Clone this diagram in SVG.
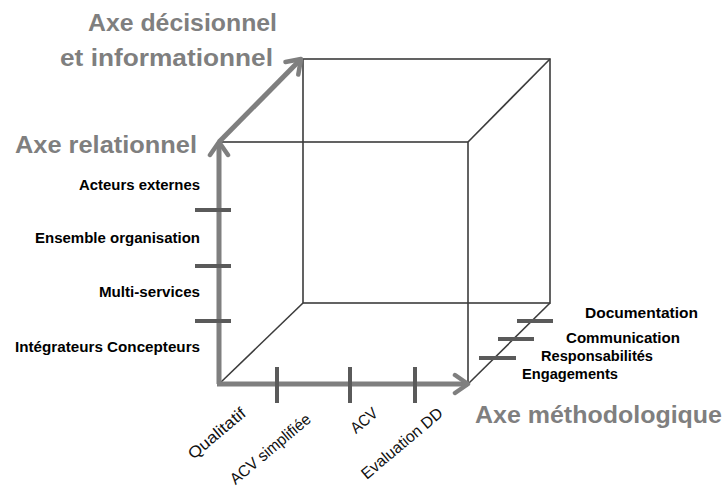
<svg xmlns="http://www.w3.org/2000/svg" width="725" height="488" viewBox="0 0 725 488">
<style>
.cube{fill:none;stroke:#3c3c3c;stroke-width:1.6}
.axis{fill:none;stroke:#7f7f7f;stroke-width:5}
.tick{stroke:#5a5a5a;stroke-width:4}
.big{font-family:"Liberation Sans",Arial,sans-serif;font-weight:bold;font-size:24px;fill:#7f7f7f}
.lab{font-family:"Liberation Sans",Arial,sans-serif;font-weight:bold;font-size:14px;fill:#000}
.rot{font-family:"Liberation Sans",Arial,sans-serif;font-size:16px;fill:#111}
</style>
<defs>
<marker id="chev" viewBox="-16 -16 32 32" refX="0" refY="0" markerWidth="32" markerHeight="32" markerUnits="userSpaceOnUse" orient="auto">
<path d="M -13 -9 L 0 0 L -13 9" fill="none" stroke="#7f7f7f" stroke-width="4.5" stroke-linecap="round" stroke-linejoin="round"/>
</marker>
</defs>
<g id="cube">
<rect class="cube" x="219" y="142" width="249" height="242"/>
<rect class="cube" x="303" y="59" width="247" height="244"/>
<line class="cube" x1="468" y1="142" x2="550" y2="59"/>
<line class="cube" x1="468" y1="384" x2="550" y2="303"/>
<line class="cube" x1="219" y1="384" x2="303" y2="303"/>
</g>
<g id="connectors">
<line class="axis" x1="219" y1="384" x2="219" y2="142" marker-end="url(#chev)"/>
<line class="axis" x1="219" y1="142" x2="301" y2="59" marker-end="url(#chev)"/>
<line class="axis" x1="217" y1="384" x2="468" y2="384" marker-end="url(#chev)"/>
</g>
<g id="ticks">
<line class="tick" x1="195" y1="210" x2="231" y2="210"/>
<line class="tick" x1="195" y1="266" x2="231" y2="266"/>
<line class="tick" x1="195" y1="321" x2="231" y2="321"/>
<line class="tick" x1="277" y1="367" x2="277" y2="403"/>
<line class="tick" x1="350" y1="367" x2="350" y2="403"/>
<line class="tick" x1="415" y1="367" x2="415" y2="403"/>
<line class="tick" x1="517" y1="321" x2="553" y2="321"/>
<line class="tick" x1="498" y1="339" x2="534" y2="339"/>
<line class="tick" x1="479" y1="358" x2="516" y2="358"/>
</g>
<g id="axis-labels">
<text class="big" x="277" y="31" text-anchor="end" textLength="189" lengthAdjust="spacingAndGlyphs">Axe décisionnel</text>
<text class="big" x="273" y="66" text-anchor="end" textLength="213" lengthAdjust="spacingAndGlyphs">et informationnel</text>
<text class="big" x="197" y="153" text-anchor="end" textLength="182" lengthAdjust="spacingAndGlyphs">Axe relationnel</text>
<text class="big" x="722" y="423" text-anchor="end" textLength="247" lengthAdjust="spacingAndGlyphs">Axe méthodologique</text>
</g>
<g id="relational-labels">
<text class="lab" x="200" y="190" text-anchor="end" textLength="121" lengthAdjust="spacingAndGlyphs">Acteurs externes</text>
<text class="lab" x="200" y="243" text-anchor="end" textLength="165" lengthAdjust="spacingAndGlyphs">Ensemble organisation</text>
<text class="lab" x="200" y="297" text-anchor="end" textLength="101" lengthAdjust="spacingAndGlyphs">Multi-services</text>
<text class="lab" x="200" y="352" text-anchor="end" textLength="185" lengthAdjust="spacingAndGlyphs">Intégrateurs Concepteurs</text>
</g>
<g id="decision-labels">
<text class="lab" x="698" y="318" text-anchor="end" textLength="113" lengthAdjust="spacingAndGlyphs">Documentation</text>
<text class="lab" x="680" y="343" text-anchor="end" textLength="114" lengthAdjust="spacingAndGlyphs">Communication</text>
<text class="lab" x="653" y="361" text-anchor="end" textLength="112" lengthAdjust="spacingAndGlyphs">Responsabilités</text>
<text class="lab" x="618" y="379" text-anchor="end" textLength="96" lengthAdjust="spacingAndGlyphs">Engagements</text>
</g>
<g id="method-labels">
<text class="rot" text-anchor="end" textLength="70" lengthAdjust="spacingAndGlyphs" transform="translate(247 415) rotate(-40)">Qualitatif</text>
<text class="rot" text-anchor="end" textLength="100" lengthAdjust="spacingAndGlyphs" transform="translate(312 421) rotate(-40)">ACV simplifiée</text>
<text class="rot" text-anchor="end" textLength="30" lengthAdjust="spacingAndGlyphs" transform="translate(379 415) rotate(-40)">ACV</text>
<text class="rot" text-anchor="end" textLength="101" lengthAdjust="spacingAndGlyphs" transform="translate(444 415) rotate(-40)">Evaluation DD</text>
</g>
</svg>
